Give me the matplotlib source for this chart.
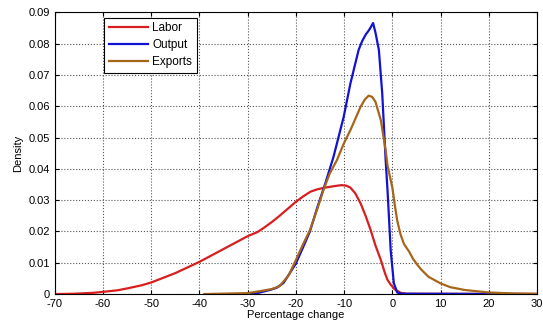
import matplotlib
matplotlib.use("Agg")
import matplotlib.pyplot as plt
from matplotlib.ticker import FuncFormatter

plt.rcParams['font.family'] = ['Liberation Sans', 'DejaVu Sans']
plt.rcParams['axes.unicode_minus'] = False

# densities
labor_x = [-70, -66, -62, -60, -57, -55, -52, -50, -45, -40, -35, -30, -28, -26.8, -25,
           -23.4, -21.5, -20, -18.5, -17, -15.5, -14, -12, -10.5, -9.5, -8.7, -7.7, -6.6,
           -5.5, -4.5, -3.5, -2.4, -1.5, -1, -0.35, 0.5, 1.7, 3, 30]
labor_y = [0, 0.0001, 0.0004, 0.0007, 0.0012, 0.0018, 0.0028, 0.0037, 0.0067, 0.0103,
           0.0144, 0.0185, 0.0198, 0.0210, 0.0230, 0.0250, 0.0275, 0.0295, 0.0312,
           0.0327, 0.0335, 0.0340, 0.0345, 0.0348, 0.0346, 0.0340, 0.0322, 0.0290,
           0.0248, 0.0204, 0.0155, 0.0109, 0.0065, 0.0045, 0.0030, 0.0015, 0.0004,
           0.0001, 0]

output_x = [-30, -28, -25.4, -24, -22.6, -21.3, -20, -18.5, -17.1, -15.5, -13.9, -12.2,
            -10.1, -8.7, -7, -6.3, -5.5, -5, -4.5, -4, -3.5, -2.8, -2.5, -2.1, -1.7,
            -1.4, -1, -0.35, 0.3, 1, 2, 30]
output_y = [0, 0.0003, 0.0013, 0.0020, 0.0035, 0.0066, 0.0098, 0.0150, 0.0200, 0.0280,
            0.0354, 0.0439, 0.0566, 0.0673, 0.0780, 0.0807, 0.0830, 0.0840, 0.0852,
            0.0866, 0.0835, 0.0780, 0.0720, 0.0640, 0.0520, 0.0430, 0.0330, 0.0140,
            0.0035, 0.0005, 0.0001, 0]

exports_x = [-39, -30, -26.8, -25, -23.4, -21.5, -20, -18.5, -17.1, -15.5, -14.3, -13,
             -11.5, -10.1, -8.7, -6.6, -5.7, -4.9, -4.2, -3.5, -2.4, -1.4, -1, -0.5, 0,
             0.5, 1, 1.7, 2.4, 3.5, 4.3, 5.2, 6, 7.5, 10, 12, 15, 20, 25, 30]
exports_y = [0, 0.0003, 0.0011, 0.0016, 0.0025, 0.0060, 0.0109, 0.0160, 0.0204, 0.0275,
             0.0332, 0.0385, 0.0428, 0.0480, 0.0524, 0.0598, 0.0622, 0.0634, 0.0630,
             0.0614, 0.0556, 0.0460, 0.0410, 0.0375, 0.0340, 0.0285, 0.0235, 0.0190,
             0.0160, 0.0135, 0.0112, 0.0093, 0.0078, 0.0055, 0.0034, 0.0022, 0.0013,
             0.0005, 0.0002, 0.0001]

fig = plt.figure(figsize=(5.43, 3.26), dpi=100)
ax = fig.add_axes([0.101, 0.098, 0.888, 0.864])

ax.plot(labor_x, labor_y, color='#d81e1e', lw=1.6, label='Labor')
ax.plot(output_x, output_y, color='#1212d2', lw=1.6, label='Output')
ax.plot(exports_x, exports_y, color='#a5661c', lw=1.6, label='Exports')

ax.set_xlim(-70, 30)
ax.set_ylim(0, 0.09)
ax.set_xticks(range(-70, 31, 10))
ax.set_yticks([i / 100 for i in range(10)])
ax.yaxis.set_major_formatter(FuncFormatter(lambda v, p: '0' if v == 0 else '%.2f' % v))
ax.tick_params(direction='in', top=True, right=True, labelsize=8, length=3)
ax.grid(True, linestyle=':', color='#555555', lw=0.8)
ax.set_xlabel('Percentage change', fontsize=8, labelpad=1)
ax.set_ylabel('Density', fontsize=8, labelpad=4)

leg = ax.legend(loc='upper left', bbox_to_anchor=(0.102, 0.981), borderaxespad=0,
                fontsize=8.5, fancybox=False, framealpha=1, edgecolor='black',
                borderpad=0.4, labelspacing=0.4, handlelength=3.3,
                handletextpad=0.4)
leg.get_frame().set_linewidth(0.8)

fig.savefig('out.png', dpi=100)
